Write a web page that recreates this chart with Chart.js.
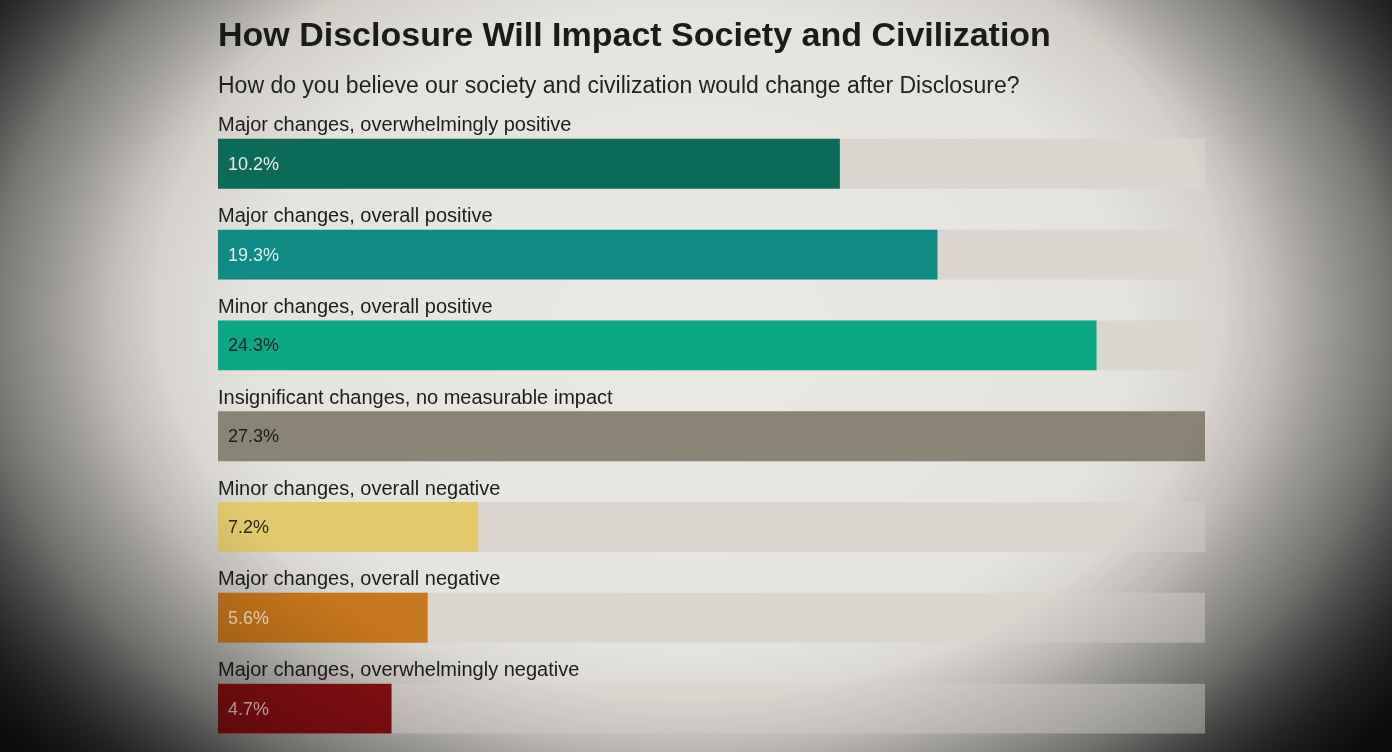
<!DOCTYPE html>
<html>
<head>
<meta charset="utf-8">
<script src="https://cdn.jsdelivr.net/npm/chart.js@4.4.1/dist/chart.umd.min.js"></script>
<style>
  html, body { margin: 0; padding: 0; width: 1392px; height: 752px; overflow: hidden; }
  body {
    background: radial-gradient(ellipse 880px 640px at 690px 330px, #ebe9e4 0%, #e5e3de 50%, #cfccc6 66%, #9c9a96 80%, #4a4948 92%, #1c1c1d 100%);
  }
  #wrap { position: absolute; left: 0; top: 0; width: 1392px; height: 770px; }
  #shade {
    position: absolute; left: 0; top: 0; width: 1392px; height: 752px; pointer-events: none;
    background: radial-gradient(ellipse 860px 640px at 690px 300px, rgba(0,0,0,0) 0%, rgba(0,0,0,0) 62%, rgba(0,0,0,0.22) 80%, rgba(0,0,0,0.55) 100%);
  }
</style>
</head>
<body>
<div id="wrap"><canvas id="c" width="1392" height="770"></canvas></div>
<div id="shade"></div>
<script>
const chartTitle = "How Disclosure Will Impact Society and Civilization";
const chartSubtitle = "How do you believe our society and civilization would change after Disclosure?";
const categories = [
  "Major changes, overwhelmingly positive",
  "Major changes, overall positive",
  "Minor changes, overall positive",
  "Insignificant changes, no measurable impact",
  "Minor changes, overall negative",
  "Major changes, overall negative",
  "Major changes, overwhelmingly negative"
];
// bar lengths as drawn in the picture (axis runs to the largest share)
const barValues = [17.2, 19.9, 24.3, 27.3, 7.2, 5.8, 4.8];
// shares as printed inside the bars
const valueLabels = ["10.2%", "19.3%", "24.3%", "27.3%", "7.2%", "5.6%", "4.7%"];
const axisMax = 27.3;
const trackValues = [27.3, 27.3, 27.3, 27.3, 27.3, 27.3, 27.3];
const barColors = ["#0c6a58", "#108a84", "#0ca784", "#8a8474", "#e3c96c", "#c8781c", "#8c1012"];
const labelColors = ["#e4eee9", "#e4f0ee", "#15241f", "#1c1c1a", "#2a2616", "#f5e2c8", "#efc4c4"];

const valueLabelPlugin = {
  id: "valueLabels",
  afterDatasetsDraw(chart) {
    const meta = chart.getDatasetMeta(1);
    const ctx = chart.ctx;
    ctx.save();
    ctx.font = "18px 'Liberation Sans', Arial, sans-serif";
    ctx.textBaseline = "middle";
    ctx.textAlign = "left";
    meta.data.forEach((el, i) => {
      ctx.fillStyle = labelColors[i];
      ctx.fillText(valueLabels[i], el.base + 10, el.y + 1);
    });
    ctx.restore();
  }
};

new Chart(document.getElementById("c"), {
  type: "bar",
  data: {
    labels: categories,
    datasets: [
      {
        data: trackValues,
        backgroundColor: "#d9d6d0",
        grouped: false,
        order: 2,
        barPercentage: 0.55,
        categoryPercentage: 1
      },
      {
        data: barValues,
        backgroundColor: barColors,
        grouped: false,
        order: 1,
        barPercentage: 0.55,
        categoryPercentage: 1
      }
    ]
  },
  options: {
    indexAxis: "y",
    responsive: false,
    animation: false,
    layout: { padding: { left: 218, right: 187, top: 16, bottom: 16 } },
    plugins: {
      legend: { display: false },
      tooltip: { enabled: false },
      title: {
        display: true,
        text: chartTitle,
        align: "start",
        color: "#1b1b1b",
        font: { family: "'Liberation Sans', Arial, sans-serif", size: 34, weight: "bold" },
        padding: { top: 0, bottom: 10 }
      },
      subtitle: {
        display: true,
        text: chartSubtitle,
        align: "start",
        color: "#222222",
        font: { family: "'Liberation Sans', Arial, sans-serif", size: 23 },
        padding: { top: 6, bottom: 18 }
      }
    },
    scales: {
      x: { display: false, min: 0, max: axisMax },
      y: {
        border: { display: false },
        grid: { display: false, drawTicks: false },
        ticks: {
          mirror: true,
          padding: 0,
          labelOffset: -38,
          color: "#1c1c1c",
          font: { family: "'Liberation Sans', Arial, sans-serif", size: 20 }
        }
      }
    }
  },
  plugins: [valueLabelPlugin]
});
</script>
</body>
</html>
